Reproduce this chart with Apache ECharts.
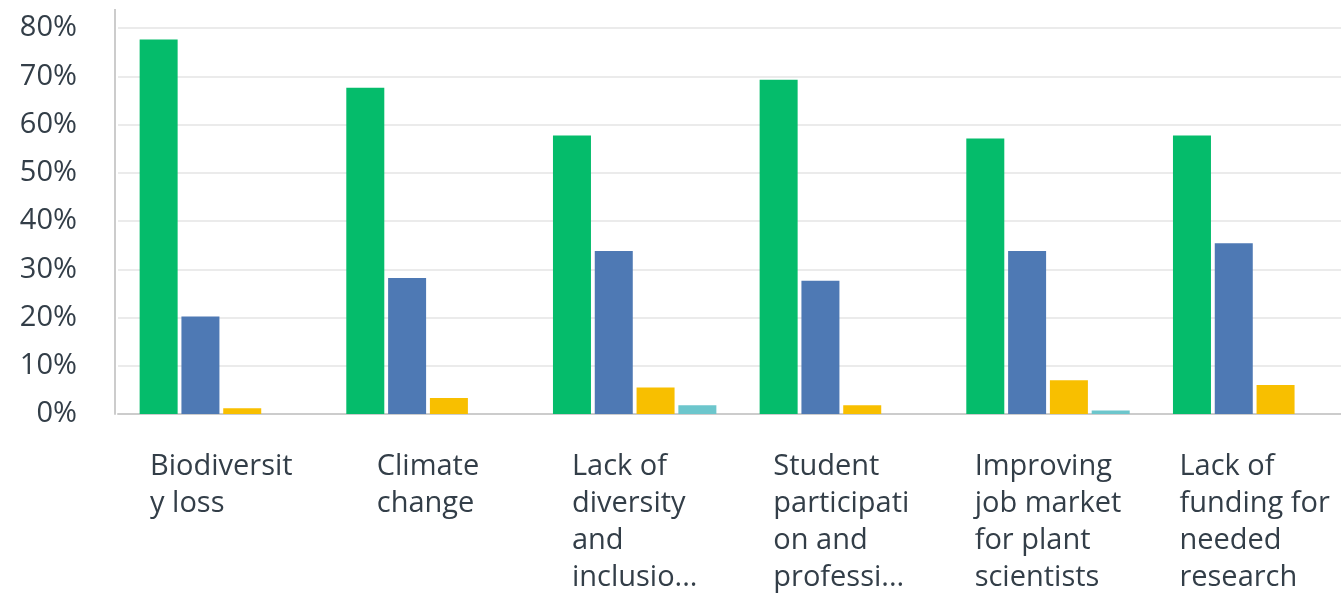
<!DOCTYPE html>
<html>
<head>
<meta charset="utf-8">
<style>
  html, body { margin: 0; padding: 0; background: #ffffff; }
  #chart { width: 1341px; height: 594px; }
</style>
<script src="https://cdn.jsdelivr.net/npm/echarts@6/dist/echarts.min.js"></script>
</head>
<body>
<div id="chart"></div>
<script>
// Category tick labels, wrapped as they are shown under each group
const categories = [
  ['Biodiversit', 'y loss'],
  ['Climate', 'change'],
  ['Lack of', 'diversity', 'and', 'inclusio...'],
  ['Student', 'participati', 'on and', 'professi...'],
  ['Improving', 'job market', 'for plant', 'scientists'],
  ['Lack of', 'funding for', 'needed', 'research']
];

// Share of responses (%) per category, one array per response option
const greenValues  = [77.6, 67.6, 57.7, 69.3, 57.1, 57.7];
const blueValues   = [20.2, 28.2, 33.8, 27.6, 33.8, 35.4];
const yellowValues = [1.2, 3.3, 5.5, 1.8, 7.0, 6.0];
const tealValues   = [0, 0, 1.8, 0, 0.7, 0];

// Value axis ticks
const yTicks = [0, 10, 20, 30, 40, 50, 60, 70, 80];

const FONT = '"Open Sans", "Noto Sans", sans-serif';
const TEXT_COLOR = '#333e48';
const GRID_TOP = 28;
const GRID_LEFT = 118;

const chart = echarts.init(document.getElementById('chart'), null, { renderer: 'canvas' });

function barSeries(name, color, data) {
  return {
    name: name,
    type: 'bar',
    // zero shares are left empty so no sliver is drawn on the axis
    data: data.map(v => (v > 0 ? v : null)),
    barWidth: 38,
    barGap: '10%',
    itemStyle: { color: color },
    emphasis: { disabled: true },
    animation: false
  };
}

chart.setOption({
  backgroundColor: '#ffffff',
  animation: false,
  grid: {
    left: GRID_LEFT, width: 1240, top: GRID_TOP, height: 386,
    containLabel: false,
    outerBoundsMode: 'none'
  },
  xAxis: {
    type: 'category',
    data: categories.map(c => c.join('\n')),
    axisLine: { show: true, lineStyle: { color: '#cccccc', width: 2 } },
    axisTick: { show: false },
    axisLabel: {
      interval: 0,
      margin: 34,
      color: TEXT_COLOR,
      fontFamily: FONT,
      fontSize: 29,
      lineHeight: 37,
      hideOverlap: false,
      formatter: function (v) {
        return v.split('\n').map(s => '{l|' + s + '}').join('\n');
      },
      rich: {
        l: { align: 'left', fontFamily: FONT, fontSize: 29, lineHeight: 37, color: TEXT_COLOR }
      }
    },
    splitLine: { show: false }
  },
  yAxis: {
    type: 'value',
    min: yTicks[0],
    max: yTicks[yTicks.length - 1],
    interval: 10,
    offset: 3,
    axisLine: { show: true, lineStyle: { color: '#cccccc', width: 2 } },
    axisTick: { show: false },
    axisLabel: {
      margin: 38,
      color: TEXT_COLOR,
      fontFamily: FONT,
      fontSize: 29,
      padding: [5, 0, 0, 0],
      formatter: '{value}%'
    },
    splitLine: { show: true, lineStyle: { color: '#ebebeb', width: 2 } }
  },
  series: [
    barSeries('green', '#05bc6b', greenValues),
    barSeries('blue', '#4e79b4', blueValues),
    barSeries('yellow', '#f8bf00', yellowValues),
    barSeries('teal', '#6cc6cc', tealValues)
  ],
  graphic: [{
    // short continuation of the value axis line above the top tick
    type: 'line',
    shape: { x1: GRID_LEFT - 3, y1: 9, x2: GRID_LEFT - 3, y2: GRID_TOP },
    style: { stroke: '#cccccc', lineWidth: 2 },
    silent: true
  }]
});
</script>
</body>
</html>
